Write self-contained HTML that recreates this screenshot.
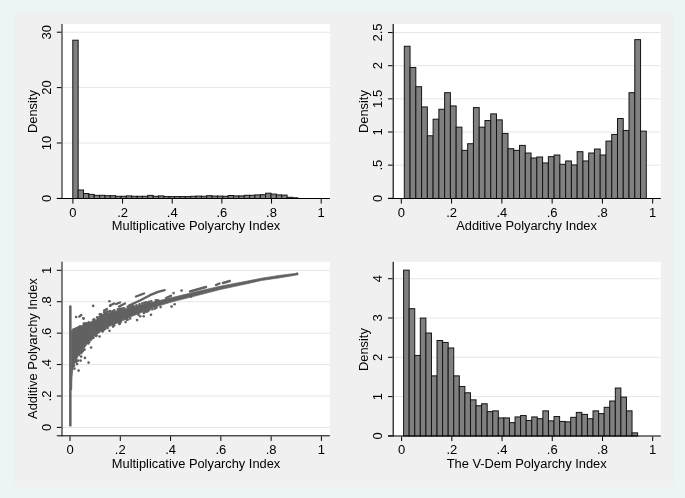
<!DOCTYPE html><html><head><meta charset="utf-8"><style>html,body{margin:0;padding:0;background:#ecf4f4}svg{display:block;will-change:transform}</style></head><body>
<svg width="685" height="498" viewBox="0 0 685 498" font-family='"Liberation Sans", sans-serif' fill="#000000">
<rect width="685" height="498" fill="#ecf4f4"/>
<rect x="14" y="14" width="660" height="473" fill="#f0f0f0"/>
<rect x="63" y="24" width="267" height="174" fill="#fff"/>
<rect x="63" y="142.5" width="267" height="1" fill="#e5e5e5"/>
<rect x="63" y="87.1" width="267" height="1" fill="#e5e5e5"/>
<rect x="63" y="31.7" width="267" height="1" fill="#e5e5e5"/>
<rect x="72.8" y="40.2" width="5.36" height="158.3" fill="#808080" stroke="#141414" stroke-width="1"/>
<rect x="78.16" y="190" width="5.36" height="8.5" fill="#808080" stroke="#141414" stroke-width="1"/>
<rect x="83.51" y="193.5" width="5.36" height="5" fill="#808080" stroke="#141414" stroke-width="1"/>
<rect x="88.87" y="194.4" width="5.36" height="4.1" fill="#808080" stroke="#141414" stroke-width="1"/>
<rect x="94.23" y="195.4" width="5.36" height="3.1" fill="#808080" stroke="#141414" stroke-width="1"/>
<rect x="99.59" y="195.3" width="5.36" height="3.2" fill="#808080" stroke="#141414" stroke-width="1"/>
<rect x="104.94" y="195.7" width="5.36" height="2.8" fill="#808080" stroke="#141414" stroke-width="1"/>
<rect x="110.3" y="195.7" width="5.36" height="2.8" fill="#808080" stroke="#141414" stroke-width="1"/>
<rect x="115.66" y="196.3" width="5.36" height="2.2" fill="#808080" stroke="#141414" stroke-width="1"/>
<rect x="121.01" y="196.3" width="5.36" height="2.2" fill="#808080" stroke="#141414" stroke-width="1"/>
<rect x="126.37" y="195.9" width="5.36" height="2.6" fill="#808080" stroke="#141414" stroke-width="1"/>
<rect x="131.73" y="196.3" width="5.36" height="2.2" fill="#808080" stroke="#141414" stroke-width="1"/>
<rect x="137.09" y="196.3" width="5.36" height="2.2" fill="#808080" stroke="#141414" stroke-width="1"/>
<rect x="142.44" y="196.3" width="5.36" height="2.2" fill="#808080" stroke="#141414" stroke-width="1"/>
<rect x="147.8" y="195.4" width="5.36" height="3.1" fill="#808080" stroke="#141414" stroke-width="1"/>
<rect x="153.16" y="196.3" width="5.36" height="2.2" fill="#808080" stroke="#141414" stroke-width="1"/>
<rect x="158.51" y="195.9" width="5.36" height="2.6" fill="#808080" stroke="#141414" stroke-width="1"/>
<rect x="163.87" y="196.6" width="5.36" height="1.9" fill="#808080" stroke="#141414" stroke-width="1"/>
<rect x="169.23" y="196.6" width="5.36" height="1.9" fill="#808080" stroke="#141414" stroke-width="1"/>
<rect x="174.59" y="196.6" width="5.36" height="1.9" fill="#808080" stroke="#141414" stroke-width="1"/>
<rect x="179.94" y="196.6" width="5.36" height="1.9" fill="#808080" stroke="#141414" stroke-width="1"/>
<rect x="185.3" y="196.6" width="5.36" height="1.9" fill="#808080" stroke="#141414" stroke-width="1"/>
<rect x="190.66" y="196.3" width="5.36" height="2.2" fill="#808080" stroke="#141414" stroke-width="1"/>
<rect x="196.01" y="196.1" width="5.36" height="2.4" fill="#808080" stroke="#141414" stroke-width="1"/>
<rect x="201.37" y="196.3" width="5.36" height="2.2" fill="#808080" stroke="#141414" stroke-width="1"/>
<rect x="206.73" y="195.7" width="5.36" height="2.8" fill="#808080" stroke="#141414" stroke-width="1"/>
<rect x="212.09" y="196.1" width="5.36" height="2.4" fill="#808080" stroke="#141414" stroke-width="1"/>
<rect x="217.44" y="196.1" width="5.36" height="2.4" fill="#808080" stroke="#141414" stroke-width="1"/>
<rect x="222.8" y="196.3" width="5.36" height="2.2" fill="#808080" stroke="#141414" stroke-width="1"/>
<rect x="228.16" y="195.5" width="5.36" height="3" fill="#808080" stroke="#141414" stroke-width="1"/>
<rect x="233.51" y="195.9" width="5.36" height="2.6" fill="#808080" stroke="#141414" stroke-width="1"/>
<rect x="238.87" y="195.9" width="5.36" height="2.6" fill="#808080" stroke="#141414" stroke-width="1"/>
<rect x="244.23" y="195.3" width="5.36" height="3.2" fill="#808080" stroke="#141414" stroke-width="1"/>
<rect x="249.59" y="195.3" width="5.36" height="3.2" fill="#808080" stroke="#141414" stroke-width="1"/>
<rect x="254.94" y="194.9" width="5.36" height="3.6" fill="#808080" stroke="#141414" stroke-width="1"/>
<rect x="260.3" y="194.7" width="5.36" height="3.8" fill="#808080" stroke="#141414" stroke-width="1"/>
<rect x="265.66" y="193.2" width="5.36" height="5.3" fill="#808080" stroke="#141414" stroke-width="1"/>
<rect x="271.01" y="194.1" width="5.36" height="4.4" fill="#808080" stroke="#141414" stroke-width="1"/>
<rect x="276.37" y="194.9" width="5.36" height="3.6" fill="#808080" stroke="#141414" stroke-width="1"/>
<rect x="281.73" y="195.1" width="5.36" height="3.4" fill="#808080" stroke="#141414" stroke-width="1"/>
<rect x="287.09" y="197.3" width="5.36" height="1.2" fill="#808080" stroke="#141414" stroke-width="1"/>
<rect x="292.44" y="197.8" width="5.36" height="0.7" fill="#808080" stroke="#141414" stroke-width="1"/>
<rect x="61.52" y="24" width="0.95" height="175" fill="#000000"/>
<rect x="56.85" y="198" width="273.15" height="1" fill="#000000"/>
<rect x="56.85" y="197.9" width="4.6" height="1" fill="#000000"/>
<rect x="56.85" y="142.5" width="4.6" height="1" fill="#000000"/>
<rect x="56.85" y="87.1" width="4.6" height="1" fill="#000000"/>
<rect x="56.85" y="31.7" width="4.6" height="1" fill="#000000"/>
<rect x="72.4" y="199" width="1" height="4.6" fill="#000000"/>
<rect x="122.06" y="199" width="1" height="4.6" fill="#000000"/>
<rect x="171.72" y="199" width="1" height="4.6" fill="#000000"/>
<rect x="221.38" y="199" width="1" height="4.6" fill="#000000"/>
<rect x="271.04" y="199" width="1" height="4.6" fill="#000000"/>
<rect x="320.7" y="199" width="1" height="4.6" fill="#000000"/>
<text x="72.9" y="216.7" text-anchor="middle" font-size="13.0">0</text>
<text x="122.56" y="216.7" text-anchor="middle" font-size="13.0">.2</text>
<text x="172.22" y="216.7" text-anchor="middle" font-size="13.0">.4</text>
<text x="221.88" y="216.7" text-anchor="middle" font-size="13.0">.6</text>
<text x="271.54" y="216.7" text-anchor="middle" font-size="13.0">.8</text>
<text x="321.2" y="216.7" text-anchor="middle" font-size="13.0">1</text>
<text transform="translate(51.2,198.4) rotate(-90)" text-anchor="middle" font-size="13.0">0</text>
<text transform="translate(51.2,143) rotate(-90)" text-anchor="middle" font-size="13.0">10</text>
<text transform="translate(51.2,87.6) rotate(-90)" text-anchor="middle" font-size="13.0">20</text>
<text transform="translate(51.2,32.2) rotate(-90)" text-anchor="middle" font-size="13.0">30</text>
<text x="196.05" y="230.2" text-anchor="middle" font-size="12.85">Multiplicative Polyarchy Index</text>
<text transform="translate(36.9,111.6) rotate(-90)" text-anchor="middle" font-size="12.85">Density</text>
<rect x="394" y="24" width="266.8" height="174" fill="#fff"/>
<rect x="394" y="164.65" width="266.8" height="1" fill="#e5e5e5"/>
<rect x="394" y="131.5" width="266.8" height="1" fill="#e5e5e5"/>
<rect x="394" y="98.35" width="266.8" height="1" fill="#e5e5e5"/>
<rect x="394" y="65.2" width="266.8" height="1" fill="#e5e5e5"/>
<rect x="394" y="32.05" width="266.8" height="1" fill="#e5e5e5"/>
<rect x="404.3" y="46.27" width="5.76" height="152.23" fill="#808080" stroke="#141414" stroke-width="1"/>
<rect x="410.06" y="67.49" width="5.76" height="131.01" fill="#808080" stroke="#141414" stroke-width="1"/>
<rect x="415.82" y="86.72" width="5.76" height="111.78" fill="#808080" stroke="#141414" stroke-width="1"/>
<rect x="421.59" y="106.94" width="5.76" height="91.56" fill="#808080" stroke="#141414" stroke-width="1"/>
<rect x="427.35" y="135.78" width="5.76" height="62.72" fill="#808080" stroke="#141414" stroke-width="1"/>
<rect x="433.11" y="119.2" width="5.76" height="79.3" fill="#808080" stroke="#141414" stroke-width="1"/>
<rect x="438.87" y="109.26" width="5.76" height="89.24" fill="#808080" stroke="#141414" stroke-width="1"/>
<rect x="444.63" y="92.68" width="5.76" height="105.82" fill="#808080" stroke="#141414" stroke-width="1"/>
<rect x="450.4" y="105.94" width="5.76" height="92.56" fill="#808080" stroke="#141414" stroke-width="1"/>
<rect x="456.16" y="127.16" width="5.76" height="71.34" fill="#808080" stroke="#141414" stroke-width="1"/>
<rect x="461.92" y="150.36" width="5.76" height="48.14" fill="#808080" stroke="#141414" stroke-width="1"/>
<rect x="467.68" y="143.73" width="5.76" height="54.77" fill="#808080" stroke="#141414" stroke-width="1"/>
<rect x="473.44" y="107.6" width="5.76" height="90.9" fill="#808080" stroke="#141414" stroke-width="1"/>
<rect x="479.2" y="127.16" width="5.76" height="71.34" fill="#808080" stroke="#141414" stroke-width="1"/>
<rect x="484.97" y="120.53" width="5.76" height="77.97" fill="#808080" stroke="#141414" stroke-width="1"/>
<rect x="490.73" y="113.9" width="5.76" height="84.6" fill="#808080" stroke="#141414" stroke-width="1"/>
<rect x="496.49" y="119.87" width="5.76" height="78.63" fill="#808080" stroke="#141414" stroke-width="1"/>
<rect x="502.25" y="133.46" width="5.76" height="65.04" fill="#808080" stroke="#141414" stroke-width="1"/>
<rect x="508.01" y="148.71" width="5.76" height="49.79" fill="#808080" stroke="#141414" stroke-width="1"/>
<rect x="513.78" y="150.36" width="5.76" height="48.14" fill="#808080" stroke="#141414" stroke-width="1"/>
<rect x="519.54" y="145.39" width="5.76" height="53.11" fill="#808080" stroke="#141414" stroke-width="1"/>
<rect x="525.3" y="153.02" width="5.76" height="45.48" fill="#808080" stroke="#141414" stroke-width="1"/>
<rect x="531.06" y="157.99" width="5.76" height="40.51" fill="#808080" stroke="#141414" stroke-width="1"/>
<rect x="536.82" y="156.99" width="5.76" height="41.51" fill="#808080" stroke="#141414" stroke-width="1"/>
<rect x="542.59" y="162.96" width="5.76" height="35.54" fill="#808080" stroke="#141414" stroke-width="1"/>
<rect x="548.35" y="156.66" width="5.76" height="41.84" fill="#808080" stroke="#141414" stroke-width="1"/>
<rect x="554.11" y="155" width="5.76" height="43.49" fill="#808080" stroke="#141414" stroke-width="1"/>
<rect x="559.87" y="164.29" width="5.76" height="34.21" fill="#808080" stroke="#141414" stroke-width="1"/>
<rect x="565.63" y="160.97" width="5.76" height="37.53" fill="#808080" stroke="#141414" stroke-width="1"/>
<rect x="571.4" y="164.95" width="5.76" height="33.55" fill="#808080" stroke="#141414" stroke-width="1"/>
<rect x="577.16" y="151.69" width="5.76" height="46.81" fill="#808080" stroke="#141414" stroke-width="1"/>
<rect x="582.92" y="160.97" width="5.76" height="37.53" fill="#808080" stroke="#141414" stroke-width="1"/>
<rect x="588.68" y="153.02" width="5.76" height="45.48" fill="#808080" stroke="#141414" stroke-width="1"/>
<rect x="594.44" y="149.04" width="5.76" height="49.46" fill="#808080" stroke="#141414" stroke-width="1"/>
<rect x="600.2" y="155" width="5.76" height="43.49" fill="#808080" stroke="#141414" stroke-width="1"/>
<rect x="605.97" y="141.08" width="5.76" height="57.42" fill="#808080" stroke="#141414" stroke-width="1"/>
<rect x="611.73" y="134.45" width="5.76" height="64.05" fill="#808080" stroke="#141414" stroke-width="1"/>
<rect x="617.49" y="118.54" width="5.76" height="79.96" fill="#808080" stroke="#141414" stroke-width="1"/>
<rect x="623.25" y="130.47" width="5.76" height="68.03" fill="#808080" stroke="#141414" stroke-width="1"/>
<rect x="629.01" y="92.68" width="5.76" height="105.82" fill="#808080" stroke="#141414" stroke-width="1"/>
<rect x="634.78" y="39.64" width="5.76" height="158.86" fill="#808080" stroke="#141414" stroke-width="1"/>
<rect x="640.54" y="131.14" width="5.76" height="67.36" fill="#808080" stroke="#141414" stroke-width="1"/>
<rect x="392.65" y="24" width="1.1" height="175" fill="#000000"/>
<rect x="388.05" y="198" width="272.75" height="1" fill="#000000"/>
<rect x="388.05" y="197.8" width="4.6" height="1" fill="#000000"/>
<rect x="388.05" y="164.65" width="4.6" height="1" fill="#000000"/>
<rect x="388.05" y="131.5" width="4.6" height="1" fill="#000000"/>
<rect x="388.05" y="98.35" width="4.6" height="1" fill="#000000"/>
<rect x="388.05" y="65.2" width="4.6" height="1" fill="#000000"/>
<rect x="388.05" y="32.05" width="4.6" height="1" fill="#000000"/>
<rect x="400.8" y="199" width="1" height="4.6" fill="#000000"/>
<rect x="451.08" y="199" width="1" height="4.6" fill="#000000"/>
<rect x="501.36" y="199" width="1" height="4.6" fill="#000000"/>
<rect x="551.64" y="199" width="1" height="4.6" fill="#000000"/>
<rect x="601.92" y="199" width="1" height="4.6" fill="#000000"/>
<rect x="652.2" y="199" width="1" height="4.6" fill="#000000"/>
<text x="401.3" y="216.7" text-anchor="middle" font-size="13.0">0</text>
<text x="451.58" y="216.7" text-anchor="middle" font-size="13.0">.2</text>
<text x="501.86" y="216.7" text-anchor="middle" font-size="13.0">.4</text>
<text x="552.14" y="216.7" text-anchor="middle" font-size="13.0">.6</text>
<text x="602.42" y="216.7" text-anchor="middle" font-size="13.0">.8</text>
<text x="652.7" y="216.7" text-anchor="middle" font-size="13.0">1</text>
<text transform="translate(382.2,198.3) rotate(-90)" text-anchor="middle" font-size="13.0">0</text>
<text transform="translate(382.2,165.15) rotate(-90)" text-anchor="middle" font-size="13.0">.5</text>
<text transform="translate(382.2,132) rotate(-90)" text-anchor="middle" font-size="13.0">1</text>
<text transform="translate(382.2,98.85) rotate(-90)" text-anchor="middle" font-size="13.0">1.5</text>
<text transform="translate(382.2,65.7) rotate(-90)" text-anchor="middle" font-size="13.0">2</text>
<text transform="translate(382.2,32.55) rotate(-90)" text-anchor="middle" font-size="13.0">2.5</text>
<text x="526.55" y="230.2" text-anchor="middle" font-size="12.85">Additive Polyarchy Index</text>
<text transform="translate(368.2,111.6) rotate(-90)" text-anchor="middle" font-size="12.85">Density</text>
<rect x="394" y="261.8" width="266.8" height="173.8" fill="#fff"/>
<rect x="394" y="396.1" width="266.8" height="1" fill="#e5e5e5"/>
<rect x="394" y="356.8" width="266.8" height="1" fill="#e5e5e5"/>
<rect x="394" y="317.5" width="266.8" height="1" fill="#e5e5e5"/>
<rect x="394" y="278.2" width="266.8" height="1" fill="#e5e5e5"/>
<rect x="403.6" y="270.15" width="5.57" height="165.85" fill="#808080" stroke="#141414" stroke-width="1"/>
<rect x="409.17" y="308.67" width="5.57" height="127.33" fill="#808080" stroke="#141414" stroke-width="1"/>
<rect x="414.74" y="355.44" width="5.57" height="80.56" fill="#808080" stroke="#141414" stroke-width="1"/>
<rect x="420.31" y="318.1" width="5.57" height="117.9" fill="#808080" stroke="#141414" stroke-width="1"/>
<rect x="425.89" y="333.03" width="5.57" height="102.97" fill="#808080" stroke="#141414" stroke-width="1"/>
<rect x="431.46" y="375.87" width="5.57" height="60.13" fill="#808080" stroke="#141414" stroke-width="1"/>
<rect x="437.03" y="340.5" width="5.57" height="95.5" fill="#808080" stroke="#141414" stroke-width="1"/>
<rect x="442.6" y="342.47" width="5.57" height="93.53" fill="#808080" stroke="#141414" stroke-width="1"/>
<rect x="448.17" y="347.97" width="5.57" height="88.03" fill="#808080" stroke="#141414" stroke-width="1"/>
<rect x="453.74" y="375.87" width="5.57" height="60.13" fill="#808080" stroke="#141414" stroke-width="1"/>
<rect x="459.31" y="386.48" width="5.57" height="49.52" fill="#808080" stroke="#141414" stroke-width="1"/>
<rect x="464.89" y="392.77" width="5.57" height="43.23" fill="#808080" stroke="#141414" stroke-width="1"/>
<rect x="470.46" y="399.84" width="5.57" height="36.16" fill="#808080" stroke="#141414" stroke-width="1"/>
<rect x="476.03" y="405.74" width="5.57" height="30.26" fill="#808080" stroke="#141414" stroke-width="1"/>
<rect x="481.6" y="403.77" width="5.57" height="32.23" fill="#808080" stroke="#141414" stroke-width="1"/>
<rect x="487.17" y="411.63" width="5.57" height="24.37" fill="#808080" stroke="#141414" stroke-width="1"/>
<rect x="492.74" y="410.85" width="5.57" height="25.15" fill="#808080" stroke="#141414" stroke-width="1"/>
<rect x="498.31" y="417.92" width="5.57" height="18.08" fill="#808080" stroke="#141414" stroke-width="1"/>
<rect x="503.89" y="417.92" width="5.57" height="18.08" fill="#808080" stroke="#141414" stroke-width="1"/>
<rect x="509.46" y="422.64" width="5.57" height="13.36" fill="#808080" stroke="#141414" stroke-width="1"/>
<rect x="515.03" y="416.94" width="5.57" height="19.06" fill="#808080" stroke="#141414" stroke-width="1"/>
<rect x="520.6" y="415.56" width="5.57" height="20.44" fill="#808080" stroke="#141414" stroke-width="1"/>
<rect x="526.17" y="420.48" width="5.57" height="15.52" fill="#808080" stroke="#141414" stroke-width="1"/>
<rect x="531.74" y="416.94" width="5.57" height="19.06" fill="#808080" stroke="#141414" stroke-width="1"/>
<rect x="537.31" y="418.71" width="5.57" height="17.29" fill="#808080" stroke="#141414" stroke-width="1"/>
<rect x="542.89" y="410.85" width="5.57" height="25.15" fill="#808080" stroke="#141414" stroke-width="1"/>
<rect x="548.46" y="420.87" width="5.57" height="15.13" fill="#808080" stroke="#141414" stroke-width="1"/>
<rect x="554.03" y="416.55" width="5.57" height="19.45" fill="#808080" stroke="#141414" stroke-width="1"/>
<rect x="559.6" y="421.46" width="5.57" height="14.54" fill="#808080" stroke="#141414" stroke-width="1"/>
<rect x="565.17" y="421.85" width="5.57" height="14.15" fill="#808080" stroke="#141414" stroke-width="1"/>
<rect x="570.74" y="417.33" width="5.57" height="18.67" fill="#808080" stroke="#141414" stroke-width="1"/>
<rect x="576.31" y="412.42" width="5.57" height="23.58" fill="#808080" stroke="#141414" stroke-width="1"/>
<rect x="581.89" y="414.38" width="5.57" height="21.61" fill="#808080" stroke="#141414" stroke-width="1"/>
<rect x="587.46" y="418.71" width="5.57" height="17.29" fill="#808080" stroke="#141414" stroke-width="1"/>
<rect x="593.03" y="410.85" width="5.57" height="25.15" fill="#808080" stroke="#141414" stroke-width="1"/>
<rect x="598.6" y="413.6" width="5.57" height="22.4" fill="#808080" stroke="#141414" stroke-width="1"/>
<rect x="604.17" y="407.31" width="5.57" height="28.69" fill="#808080" stroke="#141414" stroke-width="1"/>
<rect x="609.74" y="401.02" width="5.57" height="34.98" fill="#808080" stroke="#141414" stroke-width="1"/>
<rect x="615.31" y="388.05" width="5.57" height="47.95" fill="#808080" stroke="#141414" stroke-width="1"/>
<rect x="620.89" y="397.09" width="5.57" height="38.91" fill="#808080" stroke="#141414" stroke-width="1"/>
<rect x="626.46" y="410.85" width="5.57" height="25.15" fill="#808080" stroke="#141414" stroke-width="1"/>
<rect x="632.03" y="432.86" width="5.57" height="3.14" fill="#808080" stroke="#141414" stroke-width="1"/>
<rect x="392.65" y="261.8" width="1.1" height="174.7" fill="#000000"/>
<rect x="388.05" y="435.5" width="272.75" height="1" fill="#000000"/>
<rect x="388.05" y="435.4" width="4.6" height="1" fill="#000000"/>
<rect x="388.05" y="396.1" width="4.6" height="1" fill="#000000"/>
<rect x="388.05" y="356.8" width="4.6" height="1" fill="#000000"/>
<rect x="388.05" y="317.5" width="4.6" height="1" fill="#000000"/>
<rect x="388.05" y="278.2" width="4.6" height="1" fill="#000000"/>
<rect x="401.1" y="436.5" width="1" height="4.6" fill="#000000"/>
<rect x="451.32" y="436.5" width="1" height="4.6" fill="#000000"/>
<rect x="501.54" y="436.5" width="1" height="4.6" fill="#000000"/>
<rect x="551.76" y="436.5" width="1" height="4.6" fill="#000000"/>
<rect x="601.98" y="436.5" width="1" height="4.6" fill="#000000"/>
<rect x="652.2" y="436.5" width="1" height="4.6" fill="#000000"/>
<text x="401.6" y="454.3" text-anchor="middle" font-size="13.0">0</text>
<text x="451.82" y="454.3" text-anchor="middle" font-size="13.0">.2</text>
<text x="502.04" y="454.3" text-anchor="middle" font-size="13.0">.4</text>
<text x="552.26" y="454.3" text-anchor="middle" font-size="13.0">.6</text>
<text x="602.48" y="454.3" text-anchor="middle" font-size="13.0">.8</text>
<text x="652.7" y="454.3" text-anchor="middle" font-size="13.0">1</text>
<text transform="translate(382.2,435.9) rotate(-90)" text-anchor="middle" font-size="13.0">0</text>
<text transform="translate(382.2,396.6) rotate(-90)" text-anchor="middle" font-size="13.0">1</text>
<text transform="translate(382.2,357.3) rotate(-90)" text-anchor="middle" font-size="13.0">2</text>
<text transform="translate(382.2,318) rotate(-90)" text-anchor="middle" font-size="13.0">3</text>
<text transform="translate(382.2,278.7) rotate(-90)" text-anchor="middle" font-size="13.0">4</text>
<text x="526.7" y="467.9" text-anchor="middle" font-size="12.85">The V-Dem Polyarchy Index</text>
<text transform="translate(368.2,349.6) rotate(-90)" text-anchor="middle" font-size="12.85">Density</text>
<rect x="63" y="261.7" width="266.8" height="173.8" fill="#fff"/>
<rect x="63" y="426.9" width="266.8" height="1" fill="#e5e5e5"/>
<rect x="63" y="395.48" width="266.8" height="1" fill="#e5e5e5"/>
<rect x="63" y="364.06" width="266.8" height="1" fill="#e5e5e5"/>
<rect x="63" y="332.64" width="266.8" height="1" fill="#e5e5e5"/>
<rect x="63" y="301.22" width="266.8" height="1" fill="#e5e5e5"/>
<rect x="63" y="269.8" width="266.8" height="1" fill="#e5e5e5"/>
<polygon points="71.5,330.6 72,330.6 78,329.1 81,326.1 84.2,324 87.7,324.3 89.8,322.5 92.3,321.1 96.2,319.7 98.3,316.5 101.1,314.8 106.7,313.1 111.6,312 120,310.1 130.1,307.6 140.2,305.1 150,302.8 173.1,297.3 198,291.3 220.1,286.2 246,281.3 261.5,278.2 279,275.4 296.5,273.3 298,273.6 298,274.9 296.5,275 279,277.9 261.5,280.5 246,284 220.1,289.6 198,295.3 173.1,301.6 150,308.6 140.2,313.1 130.1,317.1 120,322.1 110,326.1 104,329.1 99,333 94.1,336 89.1,341 85.8,346 82,351 78.2,356 76.2,360 73.8,366 72.6,371.1 72.1,376.2 71.8,381.2 71.6,390" fill="#616161" stroke="#616161" stroke-width="0.7" stroke-linejoin="round"/>
<rect x="69.1" y="305.2" width="2.5" height="121.4" rx="1.2" fill="#616161"/>
<polyline points="129,305.5 140,300.5 150,295.2 158,291.8 164.6,290.1" fill="none" stroke="#616161" stroke-width="2.4" stroke-linecap="round" stroke-linejoin="round"/>
<polyline points="110,305.5 114,303.5" fill="none" stroke="#616161" stroke-width="2.4" stroke-linecap="round" stroke-linejoin="round"/>
<polyline points="116,304 120,302.5" fill="none" stroke="#616161" stroke-width="2.4" stroke-linecap="round" stroke-linejoin="round"/>
<polyline points="119,306.5 125,303.5" fill="none" stroke="#616161" stroke-width="2.4" stroke-linecap="round" stroke-linejoin="round"/>
<polyline points="104,310.5 107,309" fill="none" stroke="#616161" stroke-width="2.4" stroke-linecap="round" stroke-linejoin="round"/>
<polyline points="136,296.5 144,293.5" fill="none" stroke="#616161" stroke-width="2.4" stroke-linecap="round" stroke-linejoin="round"/>
<polyline points="190,291.5 206,287" fill="none" stroke="#616161" stroke-width="2.4" stroke-linecap="round" stroke-linejoin="round"/>
<polyline points="216,285 219.5,283.5" fill="none" stroke="#616161" stroke-width="2.4" stroke-linecap="round" stroke-linejoin="round"/>
<polyline points="223,283 229.8,281" fill="none" stroke="#616161" stroke-width="2.4" stroke-linecap="round" stroke-linejoin="round"/>
<polyline points="79.3,316.6 81.3,315" fill="none" stroke="#616161" stroke-width="2.4" stroke-linecap="round" stroke-linejoin="round"/>
<polyline points="166,298 171,295.8" fill="none" stroke="#616161" stroke-width="2.4" stroke-linecap="round" stroke-linejoin="round"/>
<circle cx="93.2" cy="305.9" r="1.3" fill="#616161"/>
<circle cx="109.4" cy="301.3" r="1.3" fill="#616161"/>
<circle cx="110.2" cy="305.7" r="1.3" fill="#616161"/>
<circle cx="83.6" cy="318.6" r="1.3" fill="#616161"/>
<circle cx="76.1" cy="317" r="1.3" fill="#616161"/>
<circle cx="83.3" cy="318.2" r="1.3" fill="#616161"/>
<circle cx="91.1" cy="347.5" r="1.3" fill="#616161"/>
<circle cx="84.6" cy="349.6" r="1.3" fill="#616161"/>
<circle cx="81.1" cy="356.6" r="1.3" fill="#616161"/>
<circle cx="84.9" cy="357.9" r="1.3" fill="#616161"/>
<circle cx="80.6" cy="360.6" r="1.3" fill="#616161"/>
<circle cx="78.1" cy="360.6" r="1.3" fill="#616161"/>
<circle cx="88.6" cy="362.6" r="1.3" fill="#616161"/>
<circle cx="77.1" cy="364.1" r="1.3" fill="#616161"/>
<circle cx="74.5" cy="368.6" r="1.3" fill="#616161"/>
<circle cx="78.6" cy="370.6" r="1.3" fill="#616161"/>
<circle cx="99.6" cy="336.5" r="1.3" fill="#616161"/>
<circle cx="127.1" cy="319.6" r="1.3" fill="#616161"/>
<circle cx="125.6" cy="322.1" r="1.3" fill="#616161"/>
<circle cx="137.1" cy="320.1" r="1.3" fill="#616161"/>
<circle cx="140.2" cy="316.3" r="1.3" fill="#616161"/>
<circle cx="143.7" cy="316.3" r="1.3" fill="#616161"/>
<circle cx="113" cy="326.6" r="1.3" fill="#616161"/>
<circle cx="109.5" cy="330.7" r="1.3" fill="#616161"/>
<circle cx="173.6" cy="293.1" r="1.3" fill="#616161"/>
<circle cx="181.6" cy="290.6" r="1.3" fill="#616161"/>
<circle cx="174.6" cy="304.3" r="1.3" fill="#616161"/>
<circle cx="171.6" cy="306.6" r="1.3" fill="#616161"/>
<circle cx="160.6" cy="307.1" r="1.3" fill="#616161"/>
<circle cx="149.5" cy="309.6" r="1.3" fill="#616161"/>
<circle cx="151" cy="314.7" r="1.3" fill="#616161"/>
<circle cx="191.2" cy="296.6" r="1.3" fill="#616161"/>
<circle cx="297" cy="273.8" r="1.3" fill="#616161"/>
<circle cx="101.17" cy="314.37" r="1.3" fill="#616161"/>
<circle cx="129.63" cy="307.41" r="1.3" fill="#616161"/>
<circle cx="119.62" cy="309.47" r="1.3" fill="#616161"/>
<circle cx="78.05" cy="328.14" r="1.3" fill="#616161"/>
<circle cx="76.26" cy="328.73" r="1.3" fill="#616161"/>
<circle cx="79.08" cy="327.7" r="1.3" fill="#616161"/>
<circle cx="109.93" cy="311.02" r="1.3" fill="#616161"/>
<circle cx="83.77" cy="323.77" r="1.3" fill="#616161"/>
<circle cx="127.59" cy="306.7" r="1.3" fill="#616161"/>
<circle cx="123.21" cy="308.55" r="1.3" fill="#616161"/>
<circle cx="157.93" cy="300.65" r="1.3" fill="#616161"/>
<circle cx="147.69" cy="302.74" r="1.3" fill="#616161"/>
<circle cx="85.55" cy="323.75" r="1.3" fill="#616161"/>
<circle cx="99.84" cy="314.22" r="1.3" fill="#616161"/>
<circle cx="88.72" cy="322.41" r="1.3" fill="#616161"/>
<circle cx="128.59" cy="307.25" r="1.3" fill="#616161"/>
<circle cx="120.65" cy="309.65" r="1.3" fill="#616161"/>
<circle cx="78.19" cy="328.43" r="1.3" fill="#616161"/>
<circle cx="132.19" cy="306.28" r="1.3" fill="#616161"/>
<circle cx="100.33" cy="314.25" r="1.3" fill="#616161"/>
<circle cx="112.43" cy="311.19" r="1.3" fill="#616161"/>
<circle cx="142.11" cy="303.47" r="1.3" fill="#616161"/>
<circle cx="94.24" cy="319.4" r="1.3" fill="#616161"/>
<circle cx="118.69" cy="308.97" r="1.3" fill="#616161"/>
<circle cx="136.46" cy="305.42" r="1.3" fill="#616161"/>
<circle cx="158.28" cy="300.46" r="1.3" fill="#616161"/>
<circle cx="109.38" cy="311.24" r="1.3" fill="#616161"/>
<circle cx="86.22" cy="323.29" r="1.3" fill="#616161"/>
<circle cx="76.41" cy="328.36" r="1.3" fill="#616161"/>
<circle cx="139.52" cy="304.27" r="1.3" fill="#616161"/>
<circle cx="149.17" cy="302.36" r="1.3" fill="#616161"/>
<circle cx="133.49" cy="305.73" r="1.3" fill="#616161"/>
<circle cx="123.45" cy="308.41" r="1.3" fill="#616161"/>
<circle cx="146.08" cy="302.2" r="1.3" fill="#616161"/>
<circle cx="114.25" cy="310.27" r="1.3" fill="#616161"/>
<circle cx="78.28" cy="327.64" r="1.3" fill="#616161"/>
<circle cx="129.3" cy="306.21" r="1.3" fill="#616161"/>
<circle cx="144.51" cy="303.49" r="1.3" fill="#616161"/>
<circle cx="106.56" cy="312.01" r="1.3" fill="#616161"/>
<circle cx="74.96" cy="329.01" r="1.3" fill="#616161"/>
<circle cx="87.62" cy="323.93" r="1.3" fill="#616161"/>
<circle cx="78.13" cy="327.7" r="1.3" fill="#616161"/>
<circle cx="84.25" cy="323.46" r="1.3" fill="#616161"/>
<circle cx="107.01" cy="311.61" r="1.3" fill="#616161"/>
<circle cx="80.01" cy="326.26" r="1.3" fill="#616161"/>
<circle cx="120.8" cy="308.46" r="1.3" fill="#616161"/>
<circle cx="144.28" cy="302.73" r="1.3" fill="#616161"/>
<circle cx="97.22" cy="317.36" r="1.3" fill="#616161"/>
<circle cx="104.21" cy="312.42" r="1.3" fill="#616161"/>
<circle cx="156.32" cy="300.88" r="1.3" fill="#616161"/>
<circle cx="88.33" cy="323.23" r="1.3" fill="#616161"/>
<circle cx="93.3" cy="319.86" r="1.3" fill="#616161"/>
<circle cx="124.25" cy="308.48" r="1.3" fill="#616161"/>
<circle cx="73.36" cy="329.47" r="1.3" fill="#616161"/>
<circle cx="105.13" cy="312.59" r="1.3" fill="#616161"/>
<circle cx="155.92" cy="300.22" r="1.3" fill="#616161"/>
<circle cx="117.85" cy="309.52" r="1.3" fill="#616161"/>
<circle cx="131.83" cy="306.9" r="1.3" fill="#616161"/>
<circle cx="151.26" cy="301.21" r="1.3" fill="#616161"/>
<circle cx="149.08" cy="301.7" r="1.3" fill="#616161"/>
<circle cx="107.74" cy="327.99" r="1.3" fill="#616161"/>
<circle cx="82.9" cy="350.9" r="1.3" fill="#616161"/>
<circle cx="79.35" cy="354.78" r="1.3" fill="#616161"/>
<circle cx="91.95" cy="338.57" r="1.3" fill="#616161"/>
<circle cx="103.24" cy="329.96" r="1.3" fill="#616161"/>
<circle cx="74.02" cy="365.86" r="1.3" fill="#616161"/>
<circle cx="82.73" cy="350.75" r="1.3" fill="#616161"/>
<circle cx="76.19" cy="361.44" r="1.3" fill="#616161"/>
<circle cx="126.81" cy="319.14" r="1.3" fill="#616161"/>
<circle cx="95.69" cy="335.71" r="1.3" fill="#616161"/>
<circle cx="105.32" cy="328.81" r="1.3" fill="#616161"/>
<circle cx="147.01" cy="311.56" r="1.3" fill="#616161"/>
<circle cx="114.08" cy="325.35" r="1.3" fill="#616161"/>
<circle cx="81.39" cy="352.15" r="1.3" fill="#616161"/>
<circle cx="103.47" cy="330.09" r="1.3" fill="#616161"/>
<circle cx="145.28" cy="311.19" r="1.3" fill="#616161"/>
<circle cx="75.99" cy="362.07" r="1.3" fill="#616161"/>
<circle cx="119.43" cy="322.73" r="1.3" fill="#616161"/>
<circle cx="120.71" cy="321.98" r="1.3" fill="#616161"/>
<circle cx="119.42" cy="323.9" r="1.3" fill="#616161"/>
<circle cx="148.25" cy="310.58" r="1.3" fill="#616161"/>
<circle cx="96.46" cy="335.27" r="1.3" fill="#616161"/>
<circle cx="88.37" cy="343.39" r="1.3" fill="#616161"/>
<circle cx="119.8" cy="323.47" r="1.3" fill="#616161"/>
<circle cx="102.35" cy="330.9" r="1.3" fill="#616161"/>
<circle cx="143.79" cy="313.03" r="1.3" fill="#616161"/>
<circle cx="147.33" cy="311.16" r="1.3" fill="#616161"/>
<circle cx="144.38" cy="312.42" r="1.3" fill="#616161"/>
<circle cx="93.5" cy="337.53" r="1.3" fill="#616161"/>
<circle cx="104.58" cy="329.05" r="1.3" fill="#616161"/>
<circle cx="76.4" cy="360.19" r="1.3" fill="#616161"/>
<circle cx="96.29" cy="335.83" r="1.3" fill="#616161"/>
<circle cx="156.26" cy="307.53" r="1.3" fill="#616161"/>
<circle cx="154.58" cy="308.79" r="1.3" fill="#616161"/>
<circle cx="156.13" cy="307.45" r="1.3" fill="#616161"/>
<circle cx="92.96" cy="337.66" r="1.3" fill="#616161"/>
<circle cx="90.92" cy="339.67" r="1.3" fill="#616161"/>
<circle cx="127.67" cy="319.76" r="1.3" fill="#616161"/>
<circle cx="146.28" cy="311.18" r="1.3" fill="#616161"/>
<circle cx="130.16" cy="318.4" r="1.3" fill="#616161"/>
<circle cx="81.29" cy="353.06" r="1.3" fill="#616161"/>
<circle cx="152.24" cy="309.22" r="1.3" fill="#616161"/>
<circle cx="138.51" cy="314.64" r="1.3" fill="#616161"/>
<circle cx="89.35" cy="342.05" r="1.3" fill="#616161"/>
<circle cx="102.6" cy="331.52" r="1.3" fill="#616161"/>
<rect x="61.52" y="261.7" width="0.95" height="174.6" fill="#000000"/>
<rect x="56.85" y="435.3" width="272.95" height="1" fill="#000000"/>
<rect x="56.85" y="426.9" width="4.6" height="1" fill="#000000"/>
<rect x="56.85" y="395.48" width="4.6" height="1" fill="#000000"/>
<rect x="56.85" y="364.06" width="4.6" height="1" fill="#000000"/>
<rect x="56.85" y="332.64" width="4.6" height="1" fill="#000000"/>
<rect x="56.85" y="301.22" width="4.6" height="1" fill="#000000"/>
<rect x="56.85" y="269.8" width="4.6" height="1" fill="#000000"/>
<rect x="69.5" y="436.3" width="1" height="4.6" fill="#000000"/>
<rect x="119.78" y="436.3" width="1" height="4.6" fill="#000000"/>
<rect x="170.06" y="436.3" width="1" height="4.6" fill="#000000"/>
<rect x="220.34" y="436.3" width="1" height="4.6" fill="#000000"/>
<rect x="270.62" y="436.3" width="1" height="4.6" fill="#000000"/>
<rect x="320.9" y="436.3" width="1" height="4.6" fill="#000000"/>
<text x="70" y="454.3" text-anchor="middle" font-size="13.0">0</text>
<text x="120.28" y="454.3" text-anchor="middle" font-size="13.0">.2</text>
<text x="170.56" y="454.3" text-anchor="middle" font-size="13.0">.4</text>
<text x="220.84" y="454.3" text-anchor="middle" font-size="13.0">.6</text>
<text x="271.12" y="454.3" text-anchor="middle" font-size="13.0">.8</text>
<text x="321.4" y="454.3" text-anchor="middle" font-size="13.0">1</text>
<text transform="translate(51.2,427.4) rotate(-90)" text-anchor="middle" font-size="13.0">0</text>
<text transform="translate(51.2,395.98) rotate(-90)" text-anchor="middle" font-size="13.0">.2</text>
<text transform="translate(51.2,364.56) rotate(-90)" text-anchor="middle" font-size="13.0">.4</text>
<text transform="translate(51.2,333.14) rotate(-90)" text-anchor="middle" font-size="13.0">.6</text>
<text transform="translate(51.2,301.72) rotate(-90)" text-anchor="middle" font-size="13.0">.8</text>
<text transform="translate(51.2,270.3) rotate(-90)" text-anchor="middle" font-size="13.0">1</text>
<text x="196.05" y="467.9" text-anchor="middle" font-size="12.85">Multiplicative Polyarchy Index</text>
<text transform="translate(37,348.6) rotate(-90)" text-anchor="middle" font-size="12.85">Additive Polyarchy Index</text>
</svg></body></html>
